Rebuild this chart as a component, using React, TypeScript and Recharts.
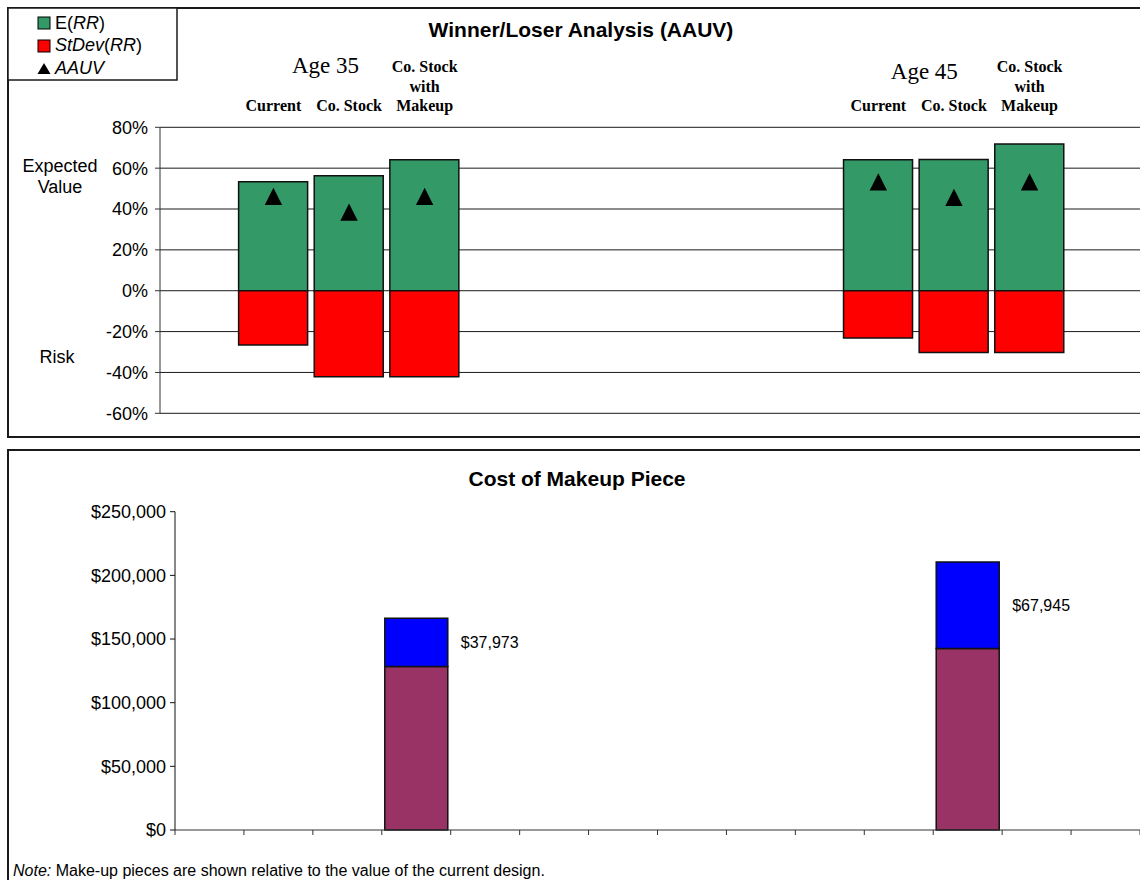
import React from "react";
import {
  ComposedChart,
  Bar,
  Line,
  XAxis,
  YAxis,
  CartesianGrid,
  LabelList,
} from "recharts";

const SANS = '"Liberation Sans", Arial, sans-serif';
const SERIF = '"Liberation Serif", "Times New Roman", serif';

// --- Winner/Loser panel data (percent) ---
const ages = ["Age 35", "Age 45"];
const designs = ["Current", "Co. Stock", "Co. Stock\nwith\nMakeup"];
const expectedRR = [
  [53.4, 56.3, 64.1],
  [64.1, 64.2, 71.8],
];
const stdevRR = [
  [26.6, 42.1, 42.1],
  [23.2, 30.2, 30.2],
];
const aauvValues = [
  [46.2, 38.5, 46.2],
  [53.3, 45.7, 53.3],
];
const pctTicks = [-60, -40, -20, 0, 20, 40, 60, 80];

// --- Cost of makeup panel data (dollars) ---
const currentDesignValue = [128400, 142600];
const makeupCost = [37973, 67945];
const dollarTicks = [0, 50000, 100000, 150000, 200000, 250000];

// layout: slot positions on the category axes
const WL_SLOTS = 13;
const WL_GROUP_START = [1, 9];
const AGE_LABEL_POS = [
  { dx: 52, dy: -54.6 },
  { dx: 46, dy: -48.3 },
];
const COST_SLOTS = 14;
const COST_BAR_SLOT = [3, 11];
const COST_PLOT_LEFT = 175;
const COST_PLOT_RIGHT = 1140;
const COST_SLOT_W = (COST_PLOT_RIGHT - COST_PLOT_LEFT) / COST_SLOTS;

type WLRow = {
  name: string;
  label: string;
  age: string;
  ageIdx: number;
  e: number | null;
  sd: number | null;
  aauv: number | null;
};

const wlRows: WLRow[] = Array.from({ length: WL_SLOTS }, (_, i) => ({
  name: `w${i}`,
  label: "",
  age: "",
  ageIdx: -1,
  e: null,
  sd: null,
  aauv: null,
}));
ages.forEach((age, g) => {
  designs.forEach((d, k) => {
    const r = wlRows[WL_GROUP_START[g] + k];
    r.label = d;
    r.e = expectedRR[g][k];
    r.sd = -stdevRR[g][k]; // risk drawn below zero
    r.aauv = aauvValues[g][k];
    if (k === 0) {
      r.age = age;
      r.ageIdx = g;
    }
  });
});

const costRows = Array.from({ length: COST_SLOTS }, (_, i) => ({
  name: `c${i}`,
  base: null as number | null,
  makeup: null as number | null,
}));
COST_BAR_SLOT.forEach((slot, g) => {
  costRows[slot].base = currentDesignValue[g];
  costRows[slot].makeup = makeupCost[g];
});

const fmtDollar = (v: number) => "$" + v.toLocaleString("en-US");

function DesignTick(props: any) {
  const { x, y, index } = props;
  const row = wlRows[index];
  if (!row || !row.label) return null;
  const lines = row.label.split("\n");
  const base = y - 16.3;
  return (
    <g>
      {lines.map((ln, i) => (
        <text
          key={i}
          x={x}
          y={base - (lines.length - 1 - i) * 19.3}
          textAnchor="middle"
          fontFamily={SERIF}
          fontWeight="bold"
          fontSize={16}
          fill="#000"
        >
          {ln}
        </text>
      ))}
      {row.age && (
        <text
          x={x + AGE_LABEL_POS[row.ageIdx].dx}
          y={y + AGE_LABEL_POS[row.ageIdx].dy}
          textAnchor="middle"
          fontFamily={SERIF}
          fontSize={23}
          fill="#000"
        >
          {row.age}
        </text>
      )}
    </g>
  );
}

function TriangleDot(props: any) {
  const { cx, cy, value, index } = props;
  if (cx == null || cy == null || value == null) return null;
  const h = 8.7;
  return (
    <path
      key={`tri-${index}`}
      d={`M${cx},${cy - h}L${cx + h},${cy + h}L${cx - h},${cy + h}Z`}
      fill="#000"
    />
  );
}

// tick marks sit on the category boundaries, not the centres
function SlotTick(props: any) {
  const { x, y, index } = props;
  const half = COST_SLOT_W / 2;
  return (
    <g stroke="#333" strokeWidth={1}>
      <line x1={x - half} x2={x - half} y1={y} y2={y + 5} />
      {index === COST_SLOTS - 1 && (
        <line x1={x + half} x2={x + half} y1={y} y2={y + 5} />
      )}
    </g>
  );
}

const frame: React.CSSProperties = {
  position: "absolute",
  boxSizing: "border-box",
  border: "2px solid #1a1a1a",
  background: "transparent",
};

export default function App() {
  return (
    <div
      style={{
        position: "fixed",
        left: 0,
        top: 0,
        width: 1140,
        height: 880,
        overflow: "hidden",
        background: "#fff",
        fontFamily: SANS,
      }}
    >
      <div style={{ ...frame, left: 7, top: 7, width: 1160, height: 431 }} />
      <div style={{ ...frame, left: 7, top: 449, width: 1160, height: 460 }} />

      {/* Winner/Loser Analysis */}
      <div style={{ position: "absolute", left: 0, top: 0 }}>
        <ComposedChart
          width={1160}
          height={440}
          data={wlRows}
          stackOffset="sign"
          margin={{ top: 0, right: 17, bottom: 26.7, left: 0 }}
        >
          <CartesianGrid vertical={false} stroke="#1a1a1a" strokeWidth={1} />
          <XAxis
            dataKey="name"
            orientation="top"
            height={127.3}
            interval={0}
            axisLine={false}
            tickLine={false}
            tickSize={0}
            tickMargin={0}
            tick={<DesignTick />}
          />
          <YAxis
            type="number"
            domain={[-60, 80]}
            ticks={pctTicks}
            width={160}
            tickSize={5}
            tickMargin={7}
            tickFormatter={(v: number) => `${v}%`}
            tick={{ fontSize: 18, fill: "#000", fontFamily: SANS }}
            axisLine={{ stroke: "#333" }}
            tickLine={{ stroke: "#333" }}
          />
          <Bar
            dataKey="e"
            stackId="rr"
            barSize={69}
            fill="#339966"
            stroke="#111"
            strokeWidth={1.5}
            isAnimationActive={false}
          />
          <Bar
            dataKey="sd"
            stackId="rr"
            barSize={69}
            fill="#ff0000"
            stroke="#111"
            strokeWidth={1.5}
            isAnimationActive={false}
          />
          <Line
            dataKey="aauv"
            stroke="none"
            dot={TriangleDot}
            activeDot={false}
            isAnimationActive={false}
          />
        </ComposedChart>
      </div>

      {/* Cost of Makeup Piece */}
      <div style={{ position: "absolute", left: 0, top: 450 }}>
        <ComposedChart
          width={1160}
          height={430}
          data={costRows}
          margin={{ top: 61.7, right: 1160 - COST_PLOT_RIGHT, bottom: 0, left: 0 }}
        >
          <XAxis
            dataKey="name"
            interval={0}
            height={50}
            axisLine={{ stroke: "#333" }}
            tickLine={false}
            tickSize={0}
            tickMargin={0}
            tick={<SlotTick />}
          />
          <YAxis
            type="number"
            domain={[0, 250000]}
            ticks={dollarTicks}
            width={COST_PLOT_LEFT}
            tickSize={5}
            tickMargin={4}
            tickFormatter={fmtDollar}
            tick={{ fontSize: 18, fill: "#000", fontFamily: SANS }}
            axisLine={{ stroke: "#111" }}
            tickLine={{ stroke: "#111" }}
          />
          <Bar
            dataKey="base"
            stackId="cost"
            barSize={63}
            fill="#993366"
            stroke="#111"
            strokeWidth={1.5}
            isAnimationActive={false}
          />
          <Bar
            dataKey="makeup"
            stackId="cost"
            barSize={63}
            fill="#0000ff"
            stroke="#111"
            strokeWidth={1.5}
            isAnimationActive={false}
          >
            <LabelList
              dataKey="makeup"
              position="right"
              offset={13}
              fill="#000"
              fontSize={16}
              fontFamily={SANS}
              formatter={(v: any) => (v == null ? "" : fmtDollar(Number(v)))}
            />
          </Bar>
        </ComposedChart>
      </div>

      {/* titles, legend and side notes */}
      <svg
        width={1140}
        height={880}
        style={{ position: "absolute", left: 0, top: 0, pointerEvents: "none" }}
        fontFamily={SANS}
      >
        <rect x={8} y={8} width={169} height={72} fill="#fff" stroke="#1a1a1a" strokeWidth={1.5} />
        <rect x={38} y={17} width={12} height={12} fill="#339966" stroke="#000" strokeWidth={1} />
        <text x={55} y={28.5} fontSize={18} fill="#000">
          E(<tspan fontStyle="italic">RR</tspan>)
        </text>
        <rect x={38} y={40} width={12} height={12} fill="#ff0000" stroke="#000" strokeWidth={1} />
        <text x={55} y={51} fontSize={18} fill="#000">
          <tspan fontStyle="italic">StDev</tspan>(<tspan fontStyle="italic">RR</tspan>)
        </text>
        <path d="M44,63L50.5,74L37.5,74Z" fill="#000" />
        <text x={55} y={74} fontSize={18} fill="#000" fontStyle="italic">
          AAUV
        </text>

        <text x={581} y={37.3} fontSize={21} fontWeight="bold" textAnchor="middle" fill="#000">
          Winner/Loser Analysis (AAUV)
        </text>
        <text x={60} y={171.7} fontSize={18} textAnchor="middle" fill="#000">
          Expected
        </text>
        <text x={60} y={192.7} fontSize={18} textAnchor="middle" fill="#000">
          Value
        </text>
        <text x={57} y={362.7} fontSize={18} textAnchor="middle" fill="#000">
          Risk
        </text>

        <text x={577} y={485.5} fontSize={21} fontWeight="bold" textAnchor="middle" fill="#000">
          Cost of Makeup Piece
        </text>
        <text x={13} y={876} fontSize={16} fill="#000">
          <tspan fontStyle="italic">Note:</tspan> Make-up pieces are shown relative to the value of the current design.
        </text>
      </svg>
    </div>
  );
}
